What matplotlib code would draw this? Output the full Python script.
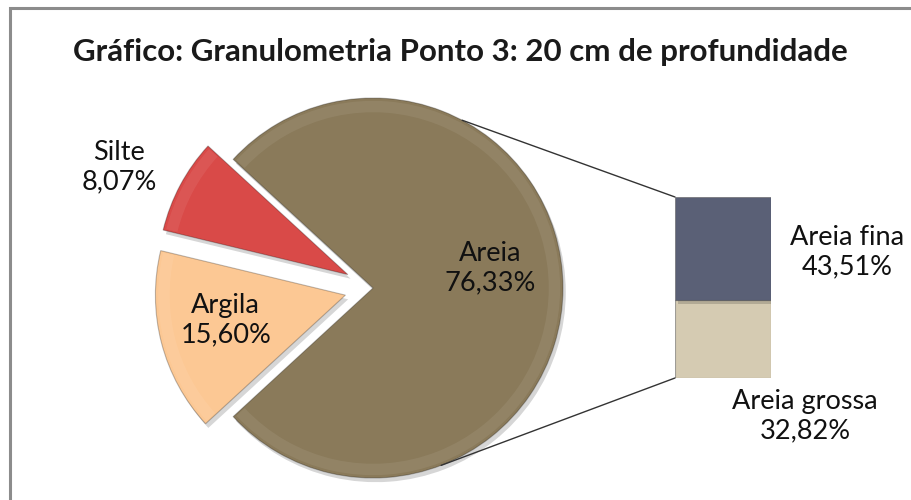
import matplotlib.pyplot as plt
import numpy as np
from matplotlib.patches import ConnectionPatch, Rectangle, Wedge
import matplotlib.patheffects as pe

plt.rcParams['font.family'] = ['Lato', 'DejaVu Sans']

# granulometry, ponto 3, 20 cm
pie_names = ['Areia', 'Silte', 'Argila']
pie_values = [76.33, 8.07, 15.60]
pie_colors = ['#8a7a5a', '#d94a48', '#fcc894']

bar_names = ['Areia grossa', 'Areia fina']
bar_values = [32.82, 43.51]
bar_colors = ['#d5cbb2', '#5a6076']


def fmt(name, v):
    return name + '\n' + ('%.2f%%' % v).replace('.', ',')


W, H = 911, 500
LBL = 19.5
fig = plt.figure(figsize=(W / 100, H / 100), dpi=100)

# frame around the chart area
fig.patches.append(Rectangle((10 / W, -0.1), 1.0, (500 - 8) / 500 + 0.1,
                             transform=fig.transFigure, fill=False,
                             edgecolor='#8c8c8c', linewidth=2.2))

fig.text(460 / W, 1 - 52 / H, 'Gráfico: Granulometria Ponto 3: 20 cm de profundidade',
         ha='center', va='center', fontsize=22.5, fontweight='bold', color='#1a1a1a')

# pie: 1 unit = 190 px, centre at (373, 288)
cx, cy, half = 373, 288, 228
ax_pie = fig.add_axes([(cx - half) / W, (H - cy - half) / H, 2 * half / W, 2 * half / H])
areia_angle = pie_values[0] / sum(pie_values) * 360
shadow = [pe.SimplePatchShadow(offset=(2, -3), shadow_rgbFace='#000000', alpha=0.16), pe.Normal()]
wedges, _ = ax_pie.pie(pie_values, colors=pie_colors, startangle=-areia_angle / 2,
                       explode=[0, 0.15, 0.15], radius=1,
                       wedgeprops=dict(linewidth=0.8, edgecolor='#00000040'))
for w in wedges:
    w.set_path_effects(shadow)
    # soft light band along the rim for the bevel look
    ax_pie.add_patch(Wedge(w.center, w.r * 0.985, w.theta1 + 0.5, w.theta2 - 0.5,
                           width=w.r * 0.06, facecolor='white', alpha=0.07,
                           edgecolor='none'))
ax_pie.set_xlim(-1.2, 1.2)
ax_pie.set_ylim(-1.2, 1.2)
ax_pie.set_aspect('auto')
ax_pie.axis('off')

ax_pie.text(0.616, 0.105, fmt(pie_names[0], pie_values[0]), ha='center', va='center',
            fontsize=LBL, color='#111111', linespacing=1.2)
ax_pie.text(-1.337, 0.635, fmt(pie_names[1], pie_values[1]), ha='center', va='center',
            fontsize=LBL, color='#111111', linespacing=1.2)
ax_pie.text(-0.775, -0.17, fmt(pie_names[2], pie_values[2]), ha='center', va='center',
            fontsize=LBL, color='#111111', linespacing=1.2)

# stacked bar for the Areia breakdown
bx0, bx1, by0, by1 = 675, 771, 197, 378
ax_bar = fig.add_axes([bx0 / W, (H - by1) / H, (bx1 - bx0) / W, (by1 - by0) / H])
bottom = 0
for v, c in zip(bar_values, bar_colors):
    ax_bar.bar(0, v, width=1, bottom=bottom, color=c, edgecolor='#55555580',
               linewidth=0.8, path_effects=shadow)
    bottom += v
ax_bar.set_xlim(-0.5, 0.5)
ax_bar.set_ylim(0, sum(bar_values))
ax_bar.axis('off')

fig.text(847 / W, 1 - 252 / H, fmt(bar_names[1], bar_values[1]), ha='center', va='center',
         fontsize=LBL, color='#111111', linespacing=1.2)
fig.text(805 / W, 1 - 416 / H, fmt(bar_names[0], bar_values[0]), ha='center', va='center',
         fontsize=LBL, color='#111111', linespacing=1.2)

# connector lines from the Areia slice to the bar
for y_bar, ang in [(sum(bar_values), 62), (0, -69)]:
    t = np.deg2rad(ang)
    con = ConnectionPatch(xyA=(-0.5, y_bar), coordsA=ax_bar.transData,
                          xyB=(np.cos(t), np.sin(t)), coordsB=ax_pie.transData,
                          color='#333333', linewidth=1.0)
    fig.add_artist(con)

fig.savefig('out.png', dpi=100)
